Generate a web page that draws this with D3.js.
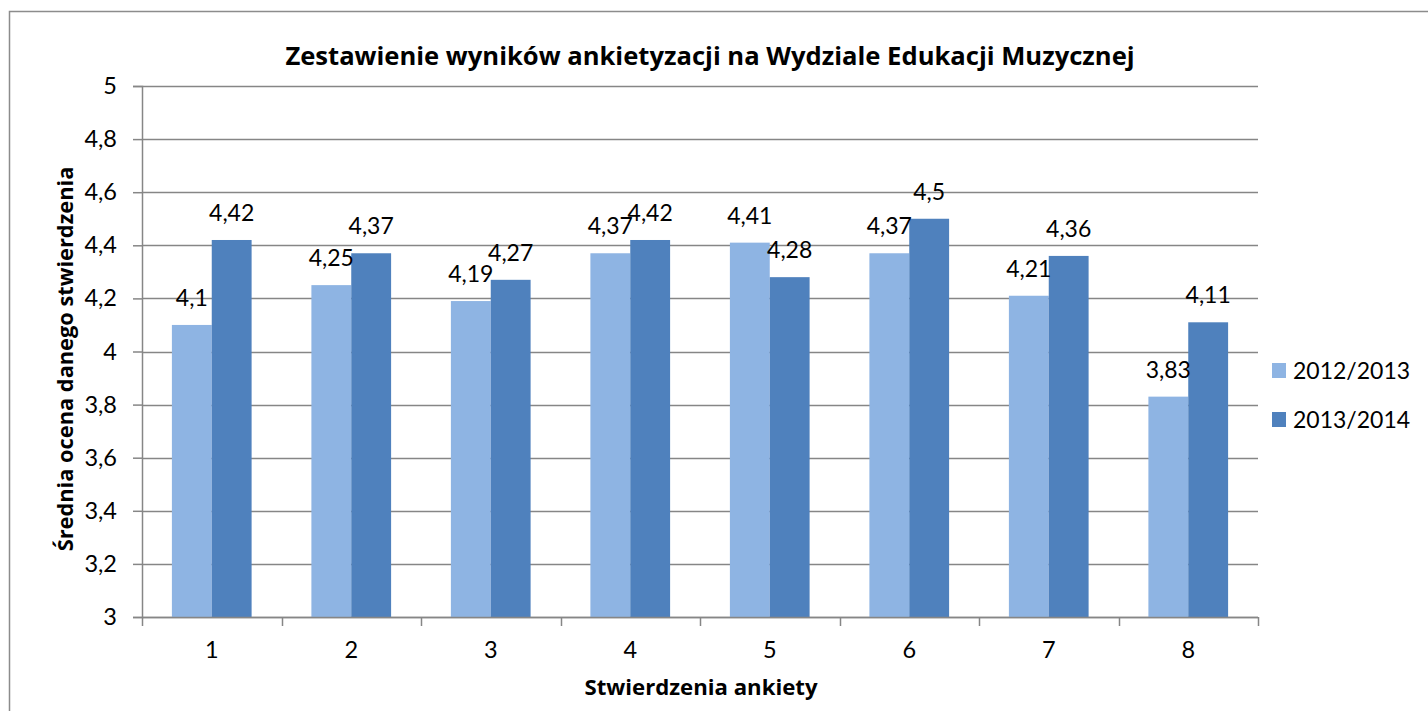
<!DOCTYPE html>
<html>
<head>
<meta charset="utf-8">
<script src="https://cdn.jsdelivr.net/npm/d3@7"></script>
<style>
  body { margin: 0; background: #fff; }
  svg { display: block; font-family: Lato, "Open Sans", sans-serif; }
  .ttl { font-family: "Open Sans", Lato, sans-serif; font-weight: bold; }
</style>
</head>
<body>
<div id="chart"></div>
<script>
const categories = ['1', '2', '3', '4', '5', '6', '7', '8'];
const seriesNames = ['2012/2013', '2013/2014'];
const values2012 = [4.1, 4.25, 4.19, 4.37, 4.41, 4.37, 4.21, 3.83];
const values2013 = [4.42, 4.37, 4.27, 4.42, 4.28, 4.5, 4.36, 4.11];
const yTicks = [3, 3.2, 3.4, 3.6, 3.8, 4, 4.2, 4.4, 4.6, 4.8, 5];
const COLORS = ['#8EB4E3', '#4F81BD'];

const W = 1428, H = 711;
const MARGIN = { TOP: 86, LEFT: 142, RIGHT: 170, BOTTOM: 94 };
const WIDTH = W - MARGIN.LEFT - MARGIN.RIGHT;
const HEIGHT = H - MARGIN.TOP - MARGIN.BOTTOM;

const fmt = v => String(v).replace('.', ',');

const svg = d3.select('#chart').append('svg')
  .attr('width', W)
  .attr('height', H);

// outer chart frame
svg.append('rect')
  .attr('x', 9.5).attr('y', 11.5)
  .attr('width', 1440).attr('height', 740)
  .attr('fill', 'none')
  .attr('stroke', '#8c8c8c')
  .attr('stroke-width', 1.5);

const g = svg.append('g')
  .attr('transform', `translate(${MARGIN.LEFT}, ${MARGIN.TOP})`);

const x = d3.scaleBand()
  .domain(categories)
  .range([0, WIDTH]);

// gap width 150% -> bars take 2/3.5 of each band
const barW = x.bandwidth() / 3.5;
const x1 = d3.scaleBand()
  .domain(seriesNames)
  .range([barW * 0.75, barW * 2.75]);

const y = d3.scaleLinear()
  .domain([3, 5])
  .range([HEIGHT, 0]);

// gridlines
g.append('g')
  .selectAll('line')
  .data(yTicks)
  .enter().append('line')
  .attr('x1', 0).attr('x2', WIDTH)
  .attr('y1', d => Math.round(y(d)) + 0.5)
  .attr('y2', d => Math.round(y(d)) + 0.5)
  .attr('stroke', '#868686')
  .attr('stroke-width', 1.5);

// y axis
const yAxis = g.append('g')
  .call(d3.axisLeft(y).tickValues(yTicks).tickFormat(fmt).tickSize(9).tickPadding(16));
yAxis.select('.domain').attr('stroke', '#868686').attr('stroke-width', 1.5);
yAxis.selectAll('.tick line').attr('stroke', '#868686').attr('stroke-width', 1.5);
yAxis.selectAll('text')
  .attr('font-size', 23.5)
  .attr('font-family', 'Lato, sans-serif')
  .attr('fill', '#000');

// bars
const data = categories.map((c, i) => ({ cat: c, vals: [values2012[i], values2013[i]] }));

const groups = g.selectAll('.cat')
  .data(data)
  .enter().append('g')
  .attr('class', 'cat')
  .attr('transform', d => `translate(${x(d.cat)}, 0)`);

groups.selectAll('rect')
  .data(d => d.vals.map((v, j) => ({ s: seriesNames[j], v, j })))
  .enter().append('rect')
  .attr('x', d => x1(d.s))
  .attr('width', x1.bandwidth())
  .attr('y', d => y(d.v))
  .attr('height', d => HEIGHT - y(d.v))
  .attr('fill', d => COLORS[d.j]);

groups.selectAll('.lbl')
  .data(d => d.vals.map((v, j) => ({ s: seriesNames[j], v, j })))
  .enter().append('text')
  .attr('class', 'lbl')
  .attr('x', d => x1(d.s) + x1.bandwidth() / 2)
  .attr('y', d => y(d.v) - 19)
  .attr('text-anchor', 'middle')
  .attr('font-size', 23)
  .attr('fill', '#000')
  .text(d => fmt(d.v));

// x axis: ticks at category boundaries
const xAxisG = g.append('g')
  .attr('transform', `translate(0, ${HEIGHT})`);
xAxisG.append('line')
  .attr('x1', 0).attr('x2', WIDTH)
  .attr('y1', 0.5).attr('y2', 0.5)
  .attr('stroke', '#868686').attr('stroke-width', 1.5);
const bounds = categories.map(c => x(c)).concat([WIDTH]);
xAxisG.selectAll('.xt')
  .data(bounds)
  .enter().append('line')
  .attr('class', 'xt')
  .attr('x1', d => Math.round(d) + 0.5).attr('x2', d => Math.round(d) + 0.5)
  .attr('y1', 0).attr('y2', 9)
  .attr('stroke', '#868686').attr('stroke-width', 1.5);
xAxisG.selectAll('.xl')
  .data(categories)
  .enter().append('text')
  .attr('class', 'xl')
  .attr('x', d => x(d) + x.bandwidth() / 2)
  .attr('y', 41)
  .attr('text-anchor', 'middle')
  .attr('font-size', 23.5)
  .text(d => d);

// titles
svg.append('text')
  .attr('class', 'ttl')
  .attr('x', 710)
  .attr('y', 65)
  .attr('text-anchor', 'middle')
  .attr('font-size', 25.6)
  .text('Zestawienie wyników ankietyzacji na Wydziale Edukacji Muzycznej');

svg.append('text')
  .attr('class', 'ttl')
  .attr('x', 701)
  .attr('y', 695)
  .attr('text-anchor', 'middle')
  .attr('font-size', 22.2)
  .text('Stwierdzenia ankiety');

svg.append('text')
  .attr('class', 'ttl')
  .attr('transform', 'translate(73, 359) rotate(-90)')
  .attr('text-anchor', 'middle')
  .attr('font-size', 21.8)
  .text('Średnia ocena danego stwierdzenia');

// legend
const legend = svg.append('g')
  .attr('transform', 'translate(1272, 363)');
const items = legend.selectAll('g')
  .data(seriesNames)
  .enter().append('g')
  .attr('transform', (d, i) => `translate(0, ${i * 49})`);
items.append('rect')
  .attr('width', 14).attr('height', 15)
  .attr('fill', (d, i) => COLORS[i]);
items.append('text')
  .attr('x', 21).attr('y', 16)
  .attr('font-size', 23)
  .text(d => d);
</script>
</body>
</html>
